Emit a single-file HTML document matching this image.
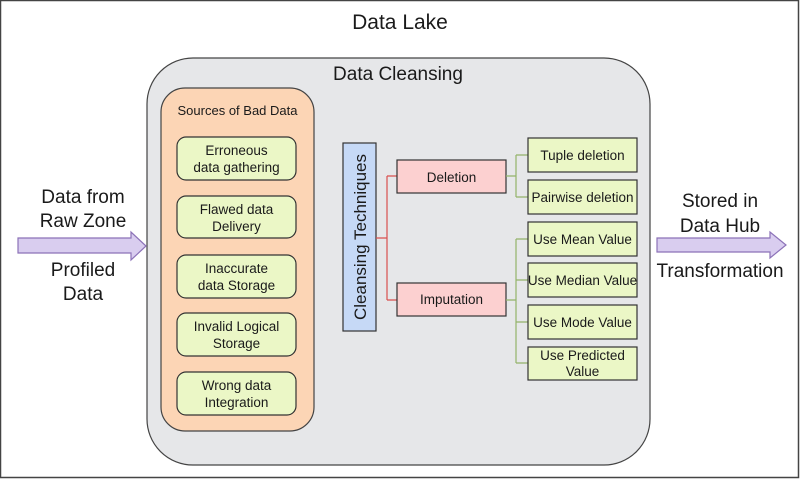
<!DOCTYPE html>
<html><head><meta charset="utf-8"><style>
html,body{margin:0;padding:0;background:#fff}
svg{display:block}
text{font-family:"Liberation Sans",sans-serif;fill:#1a1a1a}
</style></head><body>
<svg width="800" height="479" viewBox="0 0 800 479" xmlns="http://www.w3.org/2000/svg">
<rect x="0.5" y="0.5" width="798" height="477" fill="#fff" stroke="#444" stroke-width="1.5"/>
<text x="400" y="29" font-size="21" text-anchor="middle">Data Lake</text>
<rect x="147" y="58" width="503" height="407" rx="46" fill="#e6e7e9" stroke="#444" stroke-width="1.2"/>
<text x="398" y="80" font-size="19" text-anchor="middle">Data Cleansing</text>
<rect x="161" y="88" width="153" height="343" rx="24" fill="#fcd5b5" stroke="#444" stroke-width="1.2"/>
<text x="237.5" y="115" font-size="13" text-anchor="middle">Sources of Bad Data</text>
<g fill="#ebf7c6" stroke="#333" stroke-width="1.2">
<rect x="177" y="137" width="119" height="43" rx="9"/>
<rect x="177" y="196" width="119" height="42" rx="9"/>
<rect x="177" y="255" width="119" height="43" rx="9"/>
<rect x="177" y="313" width="119" height="43" rx="9"/>
<rect x="177" y="372" width="119" height="43" rx="9"/>
</g>
<g font-size="13.5" text-anchor="middle">
<text x="236.5" y="155">Erroneous</text><text x="236.5" y="172">data gathering</text>
<text x="236.5" y="214">Flawed data</text><text x="236.5" y="231">Delivery</text>
<text x="236.5" y="273">Inaccurate</text><text x="236.5" y="290">data Storage</text>
<text x="236.5" y="331">Invalid Logical</text><text x="236.5" y="348">Storage</text>
<text x="236.5" y="390">Wrong data</text><text x="236.5" y="407">Integration</text>
</g>
<rect x="343" y="143" width="33" height="188" fill="#c6d9f6" stroke="#333" stroke-width="1.2"/>
<text transform="translate(366,237) rotate(-90)" font-size="17" text-anchor="middle">Cleansing Techniques</text>
<g stroke="#d9504f" stroke-width="1.2" fill="none">
<path d="M376 238H387M387 176V300M387 176H397M387 300H397"/>
</g>
<g fill="#fcd0d0" stroke="#333" stroke-width="1.2">
<rect x="397" y="160" width="109" height="33"/>
<rect x="397" y="283" width="109" height="33"/>
</g>
<text x="451.5" y="182" font-size="13.5" text-anchor="middle">Deletion</text>
<text x="451.5" y="304" font-size="13.5" text-anchor="middle">Imputation</text>
<g stroke="#93b36a" stroke-width="1.2" fill="none">
<path d="M506 176H516M516 155V197M516 155H528M516 197H528"/>
<path d="M506 300H516M516 239V363M516 239H528M516 280H528M516 322H528M516 363H528"/>
</g>
<g fill="#ebf7c6" stroke="#333" stroke-width="1.2">
<rect x="528" y="138" width="109" height="34"/>
<rect x="528" y="180" width="109" height="34"/>
<rect x="528" y="222" width="109" height="34"/>
<rect x="528" y="263" width="109" height="34"/>
<rect x="528" y="305" width="109" height="34"/>
<rect x="528" y="347" width="109" height="33"/>
</g>
<g font-size="13.5" text-anchor="middle">
<text x="582.5" y="160">Tuple deletion</text>
<text x="582.5" y="202">Pairwise deletion</text>
<text x="582.5" y="244">Use Mean Value</text>
<text x="582.5" y="285">Use Median Value</text>
<text x="582.5" y="327">Use Mode Value</text>
<text x="582.5" y="360">Use Predicted</text>
<text x="582.5" y="376">Value</text>
</g>
<polygon points="18,238 131,238 131,232 146,246 131,260 131,253 18,253" fill="#d9cdef" stroke="#8c72b8" stroke-width="1.2"/>
<polygon points="657,238 770,238 770,232 786,245 770,258 770,252 657,252" fill="#d9cdef" stroke="#8c72b8" stroke-width="1.2"/>
<g font-size="19" text-anchor="middle">
<text x="83" y="203">Data from</text><text x="83" y="227">Raw Zone</text>
<text x="83" y="276">Profiled</text><text x="83" y="300">Data</text>
<text x="720" y="207">Stored in</text><text x="720" y="232">Data Hub</text>
<text x="720" y="277">Transformation</text>
</g>
</svg>
</body></html>
